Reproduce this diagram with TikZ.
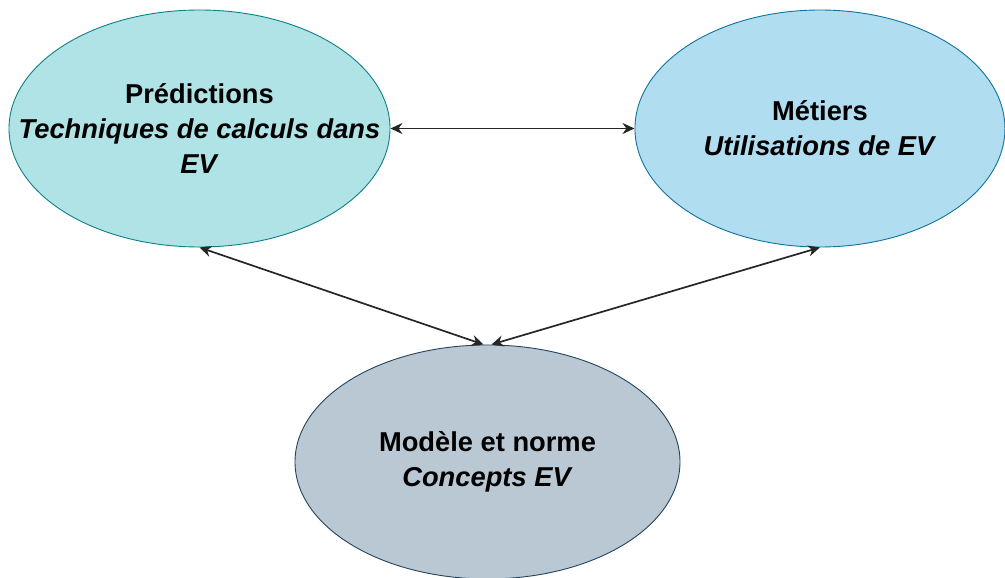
\documentclass[tikz,border=0pt]{standalone}
\usepackage{fontspec}
\setmainfont{Liberation Sans}
\usetikzlibrary{shapes.geometric,arrows.meta}
\definecolor{tealfill}{HTML}{B0E3E6}
\definecolor{tealline}{HTML}{0E8088}
\definecolor{bluefill}{HTML}{B1DDF0}
\definecolor{blueline}{HTML}{10739E}
\definecolor{greyfill}{HTML}{BAC8D3}
\definecolor{greyline}{HTML}{23445D}
\begin{document}
\begin{tikzpicture}[x=1pt,y=1pt]
  \tikzstyle{pole} = [ellipse, draw, line width=.9pt, inner sep=0pt,
                      minimum width=381pt, minimum height=237pt]
  \tikzstyle{txt} = [align=center, font=\bfseries\fontsize{27.3}{35}\selectfont]
  \tikzstyle{link} = [{Stealth[length=12pt,width=11pt]}-{Stealth[length=12pt,width=11pt]},
                      line width=1.7pt, black!85]
\useasboundingbox (0,0) rectangle (1005,-578);
\node[pole, fill=tealfill, draw=tealline,
      label={[txt]center:Prédictions\\\textit{Techniques de calculs dans}\\\textit{EV}}]
      (pred) at (199.5,-128.5) {};
\node[pole, fill=bluefill, draw=blueline, minimum width=370pt, right of=pred, xshift=592pt,
      label={[txt]center:Métiers\\\textit{Utilisations de EV}}] (metier) {};
\node[pole, fill=greyfill, draw=greyline, minimum width=385pt, minimum height=234pt,
      below of=pred, xshift=288pt, yshift=-305pt,
      label={[txt]center:Modèle et norme\\\textit{Concepts EV}}] (modele) {};
\draw[link] (pred) -- (metier);
\draw[link] (pred.south) -- ([xshift=-4pt]modele.north);
\draw[link] (metier.south) -- ([xshift=4pt]modele.north);
\end{tikzpicture}
\end{document}
